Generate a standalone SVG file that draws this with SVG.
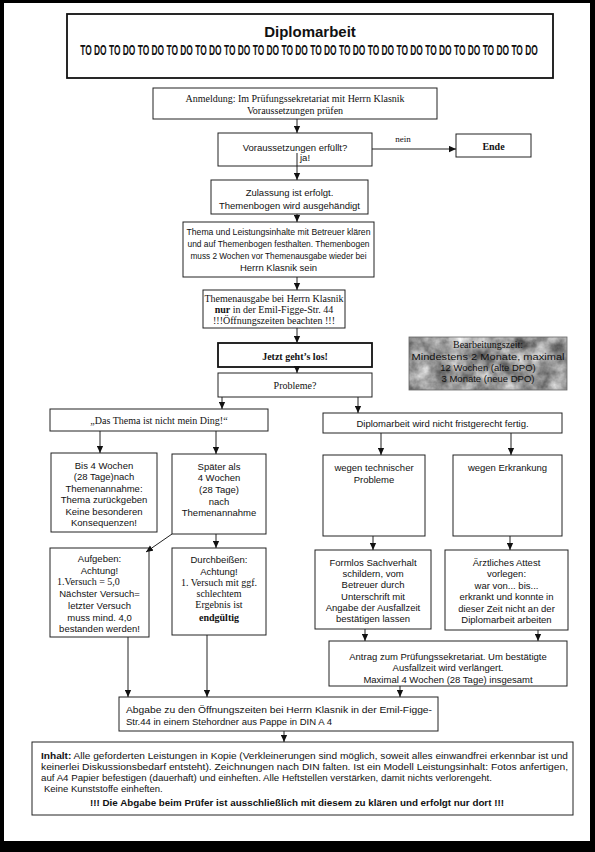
<svg xmlns="http://www.w3.org/2000/svg" width="595" height="852" viewBox="0 0 595 852">
<defs>
<style>
.bx{fill:#fff;stroke:#222;stroke-width:1}
.bxb{fill:#fff;stroke:#111;stroke-width:1.8}
.s{font-family:"Liberation Sans",Arial,sans-serif;font-size:9.5px;fill:#111;text-anchor:middle}
.sl{font-family:"Liberation Sans",Arial,sans-serif;font-size:9.5px;fill:#111}
.r{font-family:"Liberation Serif","Times New Roman",serif;font-size:10px;fill:#111;text-anchor:middle}
.rl{font-family:"Liberation Serif","Times New Roman",serif;font-size:10px;fill:#111}
.b{font-weight:bold}
.cn line{stroke:#222;stroke-width:1;marker-end:url(#ah)}
</style>
<marker id="ah" viewBox="0 0 10 10" refX="10" refY="5" markerWidth="7" markerHeight="7" markerUnits="userSpaceOnUse" orient="auto">
<path d="M0,0.5 L10,5 L0,9.5 z" fill="#111"/>
</marker>
<filter id="marble" x="0" y="0" width="100%" height="100%" color-interpolation-filters="sRGB">
<feTurbulence type="fractalNoise" baseFrequency="0.06" numOctaves="4" seed="7" result="n"/>
<feColorMatrix in="n" type="matrix" values="0.9 0 0 0 0.15  0.9 0 0 0 0.15  0.9 0 0 0 0.15  0 0 0 0 1" result="g"/>
<feComposite in="g" in2="SourceGraphic" operator="in"/>
</filter>
</defs>
<rect x="0" y="0" width="595" height="852" fill="#000"/>
<rect x="4" y="3" width="586" height="838" fill="#fff"/>

<g id="header">
<rect class="bxb" x="67" y="14" width="486" height="64"/>
<text x="310" y="37" font-family="Liberation Sans,Arial,sans-serif" font-size="15" font-weight="bold" text-anchor="middle" fill="#111">Diplomarbeit</text>
<text transform="translate(309,55) scale(0.6,1)" x="0" y="0" font-family="Liberation Sans,Arial,sans-serif" font-size="14" font-weight="bold" text-anchor="middle" fill="#111">TO DO TO DO TO DO TO DO TO DO TO DO TO DO TO DO TO DO TO DO TO DO TO DO TO DO TO DO TO DO TO DO</text>
</g>

<g id="anmeldung">
<rect class="bx" x="153" y="88" width="284" height="31"/>
<text class="r" x="295" y="102">Anmeldung: Im Prüfungssekretariat mit Herrn  Klasnik</text>
<text class="r" x="295" y="114">Voraussetzungen prüfen</text>
</g>

<g id="voraussetzungen">
<rect class="bx" x="218" y="133" width="154" height="33"/>
<text class="s" x="295" y="151" font-size="10">Voraussetzungen erfüllt?</text>
<text class="sl" x="300" y="161" font-size="7.5">ja!</text>
</g>

<g id="ende">
<rect class="bx" x="456" y="134" width="75" height="23"/>
<text class="r b" x="493.5" y="150" font-size="12.5">Ende</text>
</g>

<g id="zulassung">
<rect class="bx" x="211" y="180" width="157" height="34"/>
<text class="s" x="289.5" y="195.5" font-size="10">Zulassung ist erfolgt.</text>
<text class="s" x="289.5" y="208.5" font-size="10">Themenbogen wird ausgehändigt</text>
</g>

<g id="thema">
<rect class="bx" x="183" y="222" width="191" height="55"/>
<text class="s" x="278.5" y="234.5" font-size="9.5" textLength="184" lengthAdjust="spacingAndGlyphs">Thema und Leistungsinhalte  mit Betreuer klären</text>
<text class="s" x="278.5" y="246.5" font-size="9.5" textLength="182" lengthAdjust="spacingAndGlyphs">und auf Themenbogen festhalten. Themenbogen</text>
<text class="s" x="278.5" y="258.5" font-size="9.5" textLength="176" lengthAdjust="spacingAndGlyphs">muss 2 Wochen vor Themenausgabe wieder bei</text>
<text class="s" x="278.5" y="270.5" font-size="9.5">Herrn Klasnik  sein</text>
</g>

<g id="themenausgabe">
<rect class="bx" x="203" y="290" width="142" height="38"/>
<text class="r" x="274" y="302" font-size="9.5">Themenausgabe bei Herrn Klasnik</text>
<text class="r" x="274" y="313" font-size="9.5"><tspan font-weight="bold">nur</tspan> in der Emil-Figge-Str. 44</text>
<text class="r" x="274" y="324" font-size="9.5">!!!Öffnungszeiten beachten !!!</text>
</g>

<g id="jetzt">
<rect class="bxb" x="218" y="343" width="154" height="24"/>
<text class="r b" x="295" y="360" font-size="14">Jetzt geht’s los!</text>
</g>

<g id="probleme">
<rect class="bx" x="218" y="373" width="154" height="24"/>
<text class="r" x="295" y="389">Probleme?</text>
</g>

<g id="bearbeitungszeit">
<rect x="409" y="337" width="158" height="53" fill="#999" filter="url(#marble)"/>
<rect x="409" y="337" width="158" height="53" fill="none" stroke="#666" stroke-width="0.8"/>
<text class="r" x="488" y="348" font-size="9.5" fill="#222">Bearbeitungszeit:</text>
<text class="s" x="488" y="359.5" font-size="10.5" textLength="153" lengthAdjust="spacingAndGlyphs">Mindestens 2 Monate, maximal</text>
<text class="s" x="488" y="370.5" font-size="10.5">12 Wochen (alte DPO)</text>
<text class="s" x="488" y="381.5" font-size="10.5">3 Monate (neue DPO)</text>
</g>

<g id="nicht-mein-ding">
<rect class="bx" x="50" y="409" width="218" height="22"/>
<text class="r" x="159" y="424">„Das Thema ist nicht mein Ding!“</text>
</g>

<g id="bis4wochen">
<rect class="bx" x="51" y="453" width="106" height="79"/>
<text class="s" x="104" y="468.5">Bis 4 Wochen</text>
<text class="s" x="104" y="480">(28 Tage)nach</text>
<text class="s" x="104" y="491.5">Themenannahme:</text>
<text class="s" x="104" y="503">Thema zurückgeben</text>
<text class="s" x="104" y="514.5">Keine besonderen</text>
<text class="s" x="104" y="526">Konsequenzen!</text>
</g>

<g id="spaeter">
<rect class="bx" x="172" y="454" width="94" height="80"/>
<text class="s" x="219" y="469.5">Später als</text>
<text class="s" x="219" y="480.5">4 Wochen</text>
<text class="s" x="219" y="492.5">(28 Tage)</text>
<text class="s" x="219" y="504.5">nach</text>
<text class="s" x="219" y="515.5">Themenannahme</text>
</g>

<g id="aufgeben">
<rect class="bx" x="50" y="548" width="99" height="89"/>
<text class="s" x="99.5" y="561.5">Aufgeben:</text>
<text class="s" x="99.5" y="573.5">Achtung!</text>
<text class="rl" x="57" y="584.5">1.Versuch = 5,0</text>
<text class="s" x="99.5" y="596.5">Nächster Versuch=</text>
<text class="s" x="99.5" y="608.5">letzter Versuch</text>
<text class="s" x="99.5" y="620.5">muss mind. 4,0</text>
<text class="s" x="99.5" y="631.5">bestanden werden!</text>
</g>

<g id="durchbeissen">
<rect class="bx" x="172" y="548" width="94" height="87"/>
<text class="s" x="219" y="562.5">Durchbeißen:</text>
<text class="s" x="219" y="574.5">Achtung!</text>
<text class="r" x="219" y="585.5">1. Versuch mit ggf.</text>
<text class="r" x="219" y="596.5">schlechtem</text>
<text class="r" x="219" y="607.5">Ergebnis ist</text>
<text class="r b" x="219" y="620.5">endgültig</text>
</g>

<g id="nicht-fristgerecht">
<rect class="bx" x="323" y="413" width="239" height="20"/>
<text class="s" x="442.5" y="426.5" font-size="10">Diplomarbeit wird nicht fristgerecht fertig.</text>
</g>

<g id="technisch">
<rect class="bx" x="323" y="455" width="102" height="81"/>
<text class="s" x="374" y="470.5">wegen technischer</text>
<text class="s" x="374" y="482.5">Probleme</text>
</g>

<g id="erkrankung">
<rect class="bx" x="453" y="455" width="109" height="81"/>
<text class="s" x="507.5" y="470.5">wegen Erkrankung</text>
</g>

<g id="formlos">
<rect class="bx" x="315" y="550" width="116" height="79"/>
<text class="s" x="373" y="565.5">Formlos Sachverhalt</text>
<text class="s" x="373" y="576.5">schildern, vom</text>
<text class="s" x="373" y="587.5">Betreuer durch</text>
<text class="s" x="373" y="599.5">Unterschrift mit</text>
<text class="s" x="373" y="610.5">Angabe der Ausfallzeit</text>
<text class="s" x="373" y="621.5">bestätigen lassen</text>
</g>

<g id="attest">
<rect class="bx" x="445" y="550" width="123" height="80"/>
<text class="s" x="506.5" y="565.5">Ärztliches Attest</text>
<text class="s" x="506.5" y="576.5">vorlegen:</text>
<text class="s" x="506.5" y="588.5">war von... bis...</text>
<text class="s" x="506.5" y="599.5">erkrankt und konnte in</text>
<text class="s" x="506.5" y="611.5">dieser Zeit nicht an der</text>
<text class="s" x="506.5" y="622.5">Diplomarbeit arbeiten</text>
</g>

<g id="antrag">
<rect class="bx" x="329" y="641" width="238" height="45"/>
<text class="s" x="448" y="659.5">Antrag zum Prüfungssekretariat. Um bestätigte</text>
<text class="s" x="448" y="670.5">Ausfallzeit wird verlängert.</text>
<text class="s" x="448" y="682.5">Maximal 4 Wochen (28 Tage) insgesamt</text>
</g>

<g id="abgabe">
<rect class="bx" x="119" y="697" width="319" height="34"/>
<text class="sl" x="126" y="712.5" textLength="306" lengthAdjust="spacingAndGlyphs">Abgabe zu den Öffnungszeiten bei Herrn Klasnik in der Emil-Figge-</text>
<text class="sl" x="126" y="724.5">Str.44 in einem Stehordner aus Pappe in  DIN A 4</text>
</g>

<g id="inhalt">
<rect class="bx" x="32" y="742" width="541" height="73"/>
<text class="sl" x="41" y="759" font-size="9" textLength="527" lengthAdjust="spacingAndGlyphs"><tspan font-weight="bold">Inhalt:</tspan> Alle geforderten Leistungen in Kopie (Verkleinerungen sind möglich, soweit alles einwandfrei erkennbar ist und</text>
<text class="sl" x="41" y="770" font-size="9" textLength="527" lengthAdjust="spacingAndGlyphs">keinerlei Diskussionsbedarf entsteht).  Zeichnungen nach DIN falten.  Ist ein Modell Leistungsinhalt: Fotos  anfertigen,</text>
<text class="sl" x="41" y="781" font-size="9" textLength="451" lengthAdjust="spacingAndGlyphs">auf A4 Papier befestigen (dauerhaft) und einheften.  Alle Heftstellen verstärken, damit nichts verlorengeht.</text>
<text class="sl" x="44" y="792" font-size="9">Keine Kunststoffe einheften.</text>
<text class="sl b" x="90" y="806" font-size="9" textLength="414" lengthAdjust="spacingAndGlyphs">!!!  Die Abgabe beim Prüfer ist ausschließlich mit diesem zu klären und erfolgt nur dort  !!!</text>
</g>

<g id="connectors" class="cn">
<line x1="297" y1="119" x2="297" y2="133"/>
<line x1="372" y1="149" x2="456" y2="149"/>
<line x1="297" y1="153" x2="297" y2="180"/>
<line x1="297" y1="214" x2="297" y2="222"/>
<line x1="297" y1="277" x2="297" y2="290"/>
<line x1="297" y1="328" x2="297" y2="343"/>
<line x1="297" y1="367" x2="297" y2="373"/>
<line x1="222" y1="397" x2="222" y2="409"/>
<line x1="358" y1="397" x2="358" y2="413"/>
<line x1="100" y1="431" x2="100" y2="453"/>
<line x1="216" y1="431" x2="216" y2="454"/>
<line x1="381" y1="433" x2="381" y2="455"/>
<line x1="511" y1="433" x2="511" y2="455"/>
<line x1="172" y1="534" x2="146" y2="552"/>
<line x1="216" y1="534" x2="216" y2="548"/>
<line x1="128" y1="637" x2="128" y2="697"/>
<line x1="207" y1="635" x2="207" y2="697"/>
<line x1="373" y1="536" x2="373" y2="550"/>
<line x1="510" y1="536" x2="510" y2="550"/>
<line x1="365" y1="629" x2="365" y2="641"/>
<line x1="538" y1="630" x2="538" y2="641"/>
<line x1="400" y1="686" x2="400" y2="697"/>
<line x1="284" y1="731" x2="284" y2="742"/>
</g>
<text x="403" y="142" font-family="Liberation Serif,serif" font-size="9" text-anchor="middle" fill="#111">nein</text>
</svg>
